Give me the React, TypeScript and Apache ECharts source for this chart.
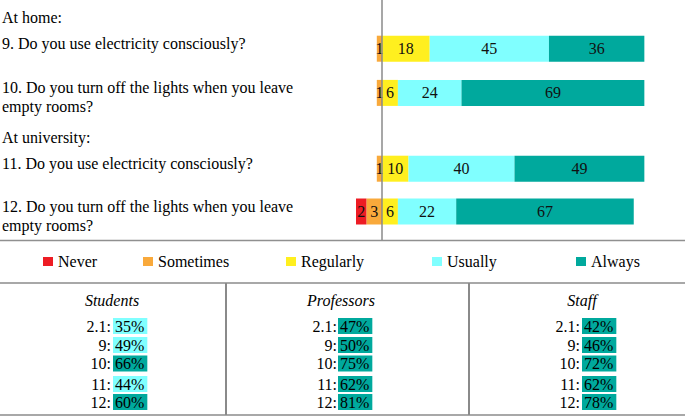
import React, { useEffect, useRef } from "react";
import * as echarts from "echarts";

// ---------- data ----------
const categories = ["Never", "Sometimes", "Regularly", "Usually", "Always"];
const categoryColors = ["#ED1C24", "#F9A93B", "#FFEF1F", "#80FFFF", "#00A99D"];

const groupTitles = ["At home:", "At university:"];
const questionIds = ["9", "10", "11", "12"];
const questionGroup = [0, 0, 1, 1];
const questionTexts = [
  "9. Do you use electricity consciously?",
  "10. Do you turn off the lights when you leave\nempty rooms?",
  "11. Do you use electricity consciously?",
  "12. Do you turn off the lights when you leave\nempty rooms?",
];

const never = [0, 0, 0, 2];
const sometimes = [1, 1, 1, 3];
const regularly = [18, 6, 10, 6];
const usually = [45, 24, 40, 22];
const always = [36, 69, 49, 67];

const tableGroups = ["Students", "Professors", "Staff"];
const tableRowLabels = ["2.1:", "9:", "10:", "11:", "12:"];
const studentsPct = [35, 49, 66, 44, 60];
const professorsPct = [47, 50, 75, 62, 81];
const staffPct = [42, 46, 72, 62, 78];
const studentsCat = ["Usually", "Usually", "Always", "Usually", "Always"];
const professorsCat = ["Always", "Always", "Always", "Always", "Always"];
const staffCat = ["Always", "Always", "Always", "Always", "Always"];

// ---------- layout / style ----------
const FONT = '"Liberation Serif", "Times New Roman", serif';
const ZERO_X = 382;
// the reference draws the negative side on a wider scale than the positive side
const NEG_MIN = -5;
const NEG_PX_PER_UNIT = 5.2;
const POS_MAX = 110;
const POS_PX_PER_UNIT = 2.65;
const gridBoxes = [
  { top: 26.6, height: 88.4 },
  { top: 147.3, height: 85.6 },
];
const legendLefts = [43, 143, 286, 432, 576];
const tableCols = [
  { center: 112, labelRight: 111, boxLeft: 113 },
  { center: 341, labelRight: 337, boxLeft: 338 },
  { center: 582, labelRight: 580, boxLeft: 582 },
];
const tableRowY = [326, 345, 363.5, 384, 402];

const colorOf = (name: string) => categoryColors[categories.indexOf(name)];

export default function App() {
  const ref = useRef<HTMLDivElement>(null);

  useEffect(() => {
    if (!ref.current) return;
    const chart = echarts.init(ref.current, null, { renderer: "svg" });

    const valuesByCat: Record<string, number[]> = {
      Never: never.map((v) => -v),
      Sometimes: sometimes.map((v) => -v),
      Regularly: regularly,
      Usually: usually,
      Always: always,
    };
    const sides = [
      { names: ["Sometimes", "Never"], min: NEG_MIN, max: 0, left: ZERO_X + NEG_MIN * NEG_PX_PER_UNIT, width: -NEG_MIN * NEG_PX_PER_UNIT },
      { names: ["Regularly", "Usually", "Always"], min: 0, max: POS_MAX, left: ZERO_X, width: POS_MAX * POS_PX_PER_UNIT },
    ];

    const grids: any[] = [];
    const xAxes: any[] = [];
    const yAxes: any[] = [];
    const series: any[] = [];
    groupTitles.forEach((_, g) => {
      const idx = questionIds.map((_, i) => i).filter((i) => questionGroup[i] === g);
      sides.forEach((side, s) => {
        const gi = grids.length;
        grids.push({ left: side.left, width: side.width, top: gridBoxes[g].top, height: gridBoxes[g].height });
        xAxes.push({ type: "value", gridIndex: gi, min: side.min, max: side.max, show: false });
        yAxes.push({
          type: "category",
          gridIndex: gi,
          inverse: true,
          show: false,
          data: idx.map((i) => questionIds[i]),
        });
        side.names.forEach((name) => {
          series.push({
            name,
            type: "bar",
            xAxisIndex: gi,
            yAxisIndex: gi,
            stack: "s" + gi,
            barWidth: 26,
            itemStyle: { color: colorOf(name) },
            label: {
              show: true,
              position: "inside",
              color: "#111",
              fontFamily: FONT,
              fontSize: 16,
              formatter: (p: any) => String(Math.abs(p.value)),
            },
            data: idx.map((i) => {
              const v = valuesByCat[name][i];
              return v === 0 ? null : v;
            }),
          });
        });
      });
    });

    chart.setOption({
      animation: false,
      grid: grids,
      xAxis: xAxes,
      yAxis: yAxes,
      legend: categories.map((name, i) => ({
        data: [name],
        left: legendLefts[i],
        top: 253,
        padding: 0,
        itemWidth: 10,
        itemHeight: 9,
        icon: "rect",
        selectedMode: false,
        textStyle: { fontFamily: FONT, fontSize: 16, color: "#000", lineHeight: 17 },
      })),
      series,
    });

    // positions derived from the chart's own scales
    const x0 = chart.convertToPixel({ xAxisIndex: 1 }, 0) as number;
    const rowY = questionIds.map(
      (id, i) => chart.convertToPixel({ yAxisIndex: questionGroup[i] * 2 + 1 }, id) as number
    );

    const graphic: any[] = [];
    graphic.push({
      type: "line",
      shape: { x1: x0, y1: 0, x2: x0, y2: 240 },
      style: { stroke: "#8a8a8a", lineWidth: 1.5 },
      z: 10,
    });
    graphic.push({
      type: "line",
      shape: { x1: 0, y1: 240.5, x2: 685, y2: 240.5 },
      style: { stroke: "#909090", lineWidth: 1.5 },
    });
    graphic.push({
      type: "line",
      shape: { x1: 0, y1: 283, x2: 685, y2: 283 },
      style: { stroke: "#a8a8a8", lineWidth: 2 },
    });
    graphic.push({
      type: "line",
      shape: { x1: 0, y1: 415, x2: 685, y2: 415 },
      style: { stroke: "#a8a8a8", lineWidth: 2 },
    });
    [226, 469].forEach((x) =>
      graphic.push({
        type: "line",
        shape: { x1: x, y1: 283, x2: x, y2: 415 },
        style: { stroke: "#8a8a8a", lineWidth: 2 },
      })
    );
    groupTitles.forEach((t, g) => {
      const first = questionGroup.indexOf(g);
      graphic.push({
        type: "text",
        x: 2,
        y: rowY[first] - 31.5,
        style: {
          text: t,
          font: `16px ${FONT}`,
          fill: "#000",
          textAlign: "left",
          textVerticalAlign: "middle",
        },
      });
    });
    questionTexts.forEach((t, i) => {
      graphic.push({
        type: "text",
        x: 2,
        y: rowY[i] - 15,
        style: {
          text: t,
          font: `16px ${FONT}`,
          lineHeight: 19,
          fill: "#000",
          textAlign: "left",
          textVerticalAlign: "top",
        },
      });
    });
    const pcts = [studentsPct, professorsPct, staffPct];
    const cats = [studentsCat, professorsCat, staffCat];
    tableGroups.forEach((name, c) => {
      const col = tableCols[c];
      graphic.push({
        type: "text",
        x: col.center,
        y: 300,
        style: {
          text: name,
          font: `italic 16px ${FONT}`,
          fill: "#000",
          textAlign: "center",
          textVerticalAlign: "middle",
        },
      });
      tableRowLabels.forEach((lab, r) => {
        graphic.push({
          type: "text",
          x: col.labelRight,
          y: tableRowY[r],
          style: {
            text: lab,
            font: `16px ${FONT}`,
            fill: "#000",
            textAlign: "right",
            textVerticalAlign: "middle",
          },
        });
        graphic.push({
          type: "text",
          x: col.boxLeft,
          y: tableRowY[r],
          style: {
            text: pcts[c][r] + "%",
            font: `16px ${FONT}`,
            lineHeight: 16,
            fill: "#000",
            textAlign: "left",
            textVerticalAlign: "middle",
            backgroundColor: colorOf(cats[c][r]),
            padding: [0, 3, 0, 2],
          },
        });
      });
    });

    chart.setOption({ graphic });

    return () => chart.dispose();
  }, []);

  return (
    <div
      ref={ref}
      style={{ position: "fixed", left: 0, top: 0, width: 685, height: 417, background: "#fff" }}
    />
  );
}
